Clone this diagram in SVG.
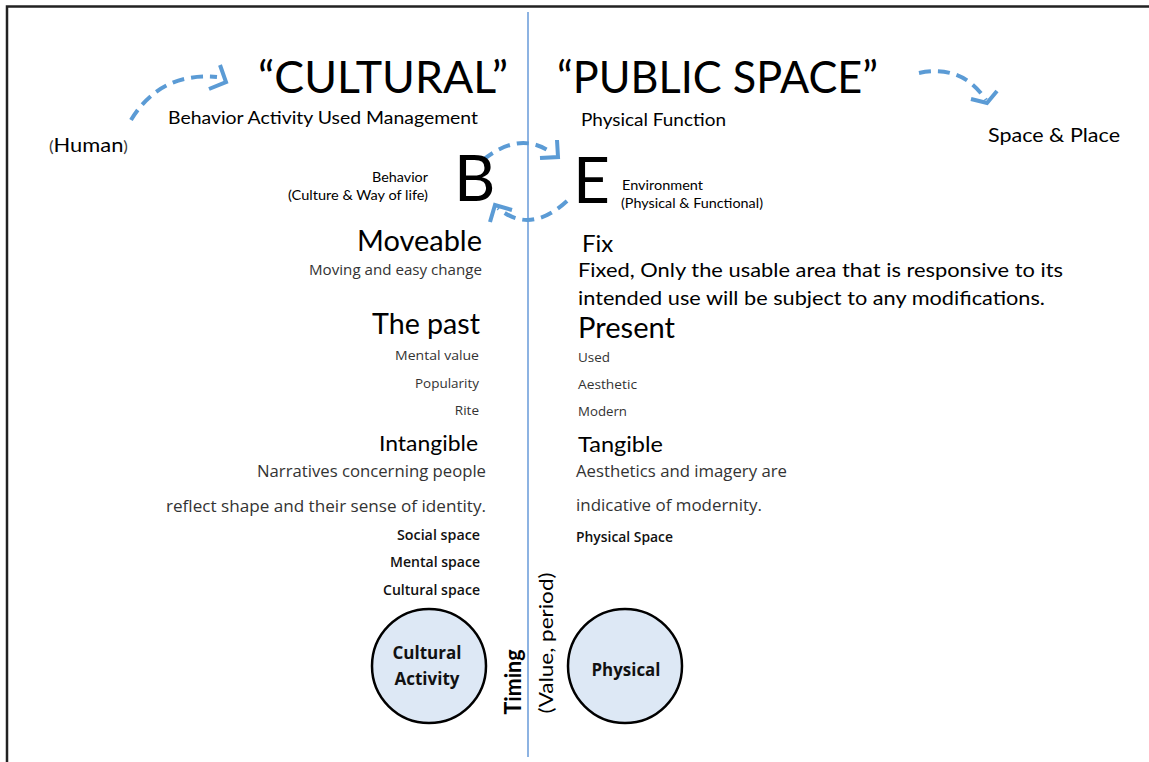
<svg xmlns="http://www.w3.org/2000/svg" width="1149" height="762" viewBox="0 0 1149 762">
<style>
.h{font-family:Lato,"Open Sans","Liberation Sans",sans-serif;fill:#000}
.t{font-family:"Open Sans","Noto Sans","Liberation Sans",sans-serif;fill:#333}
.b{font-family:"Open Sans","Noto Sans","Liberation Sans",sans-serif;fill:#111;font-weight:600}
.bb{font-family:"Open Sans","Noto Sans","Liberation Sans",sans-serif;fill:#111;font-weight:700}
.arr{fill:none;stroke:#5b9bd5;stroke-width:4;stroke-dasharray:12 7;stroke-linecap:butt}
.head{fill:none;stroke:#5b9bd5;stroke-width:4;stroke-linecap:butt;stroke-linejoin:miter}
.circ{fill:#dde8f5;stroke:#000;stroke-width:2.5}
.r{text-anchor:end}
.c{text-anchor:middle}
</style>
<rect width="1149" height="762" fill="#fff"/>
<g id="frame">
<path d="M7,762 V6.5 H1149" fill="none" stroke="#222" stroke-width="2.5"/>
<line x1="528" y1="12" x2="528" y2="757" stroke="#8db3e2" stroke-width="2"/>
</g>
<g id="connectors">
<path class="arr" d="M131,120 Q160,72 217,77"/>
<path class="head" d="M220,65 L226,82 L209,89"/>
<path class="arr" d="M919,73 Q962,64 986,100"/>
<path class="head" d="M997,91 L987,103 L971,99"/>
<path class="arr" d="M483,160 Q520,130 552,153"/>
<path class="head" d="M557,140 L558,157 L540,158"/>
<path class="arr" d="M567,201 Q530,235 498,208"/>
<path class="head" d="M490,222 L495,205 L512,210"/>
</g>
<g id="title-cultural">
<text class="h" x="258" y="93" font-size="45" textLength="250" lengthAdjust="spacingAndGlyphs">“CULTURAL”</text>
<text class="h" x="168" y="124" font-size="18" textLength="310" lengthAdjust="spacingAndGlyphs">Behavior Activity Used Management</text>
</g>
<g id="title-public">
<text class="h" x="557" y="93" font-size="45" textLength="321" lengthAdjust="spacingAndGlyphs">“PUBLIC SPACE”</text>
<text class="h" x="581" y="126" font-size="18" textLength="145" lengthAdjust="spacingAndGlyphs">Physical Function</text>
</g>
<g id="human">
<text class="h" x="49" y="152" font-size="19" textLength="79" lengthAdjust="spacingAndGlyphs"><tspan font-size="15" fill="#444">(</tspan>Human<tspan font-size="15" fill="#444">)</tspan></text>
</g>
<g id="space-place">
<text class="h" x="988" y="142" font-size="19" textLength="132" lengthAdjust="spacingAndGlyphs">Space &amp; Place</text>
</g>
<g id="node-B">
<text class="h" x="454" y="201" font-size="64">B</text>
<text class="h r" x="428" y="182" font-size="13" textLength="56" lengthAdjust="spacingAndGlyphs">Behavior</text>
<text class="h r" x="428" y="200" font-size="13" textLength="140" lengthAdjust="spacingAndGlyphs">(Culture &amp; Way of life)</text>
</g>
<g id="node-E">
<text class="h" x="573" y="203" font-size="64">E</text>
<text class="h" x="622" y="190" font-size="13" textLength="81" lengthAdjust="spacingAndGlyphs">Environment</text>
<text class="h" x="621" y="208" font-size="13" textLength="142" lengthAdjust="spacingAndGlyphs">(Physical &amp; Functional)</text>
</g>
<g id="left-column">
<text class="h r" x="482" y="251" font-size="29" textLength="125" lengthAdjust="spacingAndGlyphs">Moveable</text>
<text class="t r" x="482" y="275" font-size="14.5" textLength="173" lengthAdjust="spacingAndGlyphs">Moving and easy change</text>
<text class="h r" x="480" y="334" font-size="28" textLength="108" lengthAdjust="spacingAndGlyphs">The past</text>
<text class="t r" x="479" y="360" font-size="13.5" textLength="84" lengthAdjust="spacingAndGlyphs">Mental value</text>
<text class="t r" x="479" y="388" font-size="13.5" textLength="64" lengthAdjust="spacingAndGlyphs">Popularity</text>
<text class="t r" x="479" y="415" font-size="13.5">Rite</text>
<text class="h r" x="478" y="451" font-size="21" textLength="99" lengthAdjust="spacingAndGlyphs">Intangible</text>
<text class="t r" x="486" y="477" font-size="17" textLength="229" lengthAdjust="spacingAndGlyphs">Narratives concerning people</text>
<text class="t r" x="486" y="512" font-size="17" textLength="320" lengthAdjust="spacingAndGlyphs">reflect shape and their sense of identity.</text>
<text class="b r" x="480" y="540" font-size="13.5" textLength="83" lengthAdjust="spacingAndGlyphs">Social space</text>
<text class="b r" x="480" y="567" font-size="13.5" textLength="90" lengthAdjust="spacingAndGlyphs">Mental space</text>
<text class="b r" x="480" y="595" font-size="13.5" textLength="97" lengthAdjust="spacingAndGlyphs">Cultural space</text>
</g>
<g id="right-column">
<text class="h" x="582" y="252" font-size="24">Fix</text>
<text class="h" x="578" y="277" font-size="19" textLength="485" lengthAdjust="spacingAndGlyphs">Fixed, Only the usable area that is responsive to its</text>
<text class="h" x="578" y="305" font-size="19" textLength="467" lengthAdjust="spacingAndGlyphs">intended use will be subject to any modifications.</text>
<text class="h" x="578" y="338" font-size="29" textLength="97" lengthAdjust="spacingAndGlyphs">Present</text>
<text class="t" x="578" y="362" font-size="13.5" textLength="32" lengthAdjust="spacingAndGlyphs">Used</text>
<text class="t" x="578" y="389" font-size="13.5" textLength="59" lengthAdjust="spacingAndGlyphs">Aesthetic</text>
<text class="t" x="578" y="416" font-size="13.5" textLength="49" lengthAdjust="spacingAndGlyphs">Modern</text>
<text class="h" x="578" y="452" font-size="21" textLength="85" lengthAdjust="spacingAndGlyphs">Tangible</text>
<text class="t" x="576" y="477" font-size="17" textLength="211" lengthAdjust="spacingAndGlyphs">Aesthetics and imagery are</text>
<text class="t" x="576" y="511" font-size="17" textLength="186" lengthAdjust="spacingAndGlyphs">indicative of modernity.</text>
<text class="b" x="576" y="542" font-size="13.5" textLength="97" lengthAdjust="spacingAndGlyphs">Physical Space</text>
</g>
<g id="node-cultural-activity">
<circle class="circ" cx="429" cy="666" r="57"/>
<text class="bb c" x="427" y="659" font-size="17.5" textLength="69" lengthAdjust="spacingAndGlyphs">Cultural</text>
<text class="bb c" x="427" y="685" font-size="17.5" textLength="65" lengthAdjust="spacingAndGlyphs">Activity</text>
</g>
<g id="node-physical">
<circle class="circ" cx="625" cy="666" r="57"/>
<text class="bb c" x="626" y="676" font-size="17.5" textLength="69" lengthAdjust="spacingAndGlyphs">Physical</text>
</g>
<g id="timing">
<text class="h c" font-size="23" font-weight="bold" transform="translate(521,682) rotate(-90)" textLength="65" lengthAdjust="spacingAndGlyphs">Timing</text>
<text class="h c" font-size="20" transform="translate(553,643) rotate(-90)" textLength="141" lengthAdjust="spacingAndGlyphs">(Value, period)</text>
</g>
</svg>
